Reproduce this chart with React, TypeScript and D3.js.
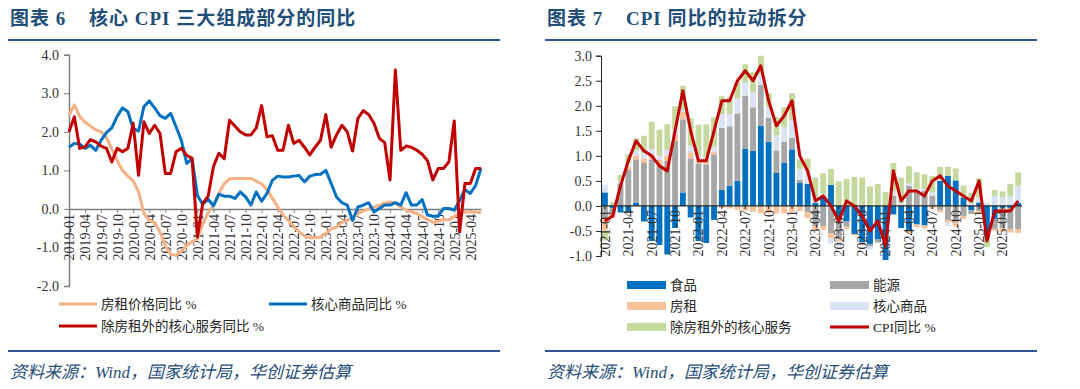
import { useEffect, useRef } from 'react';
import * as d3 from 'd3';

// ---------- helpers for category labels ----------
function monthRange(y0: number, m0: number, n: number) {
  const out: string[] = [];
  for (let i = 0; i < n; i++) {
    const t = m0 - 1 + i;
    out.push(`${y0 + Math.floor(t / 12)}-${String((t % 12) + 1).padStart(2, '0')}`);
  }
  return out;
}

// ---------- left chart: 核心CPI三大组成部分的同比 (2019-01 .. 2025-06) ----------
const leftMonths = monthRange(2019, 1, 78);
const leftYTicks = [-2, -1, 0, 1, 2, 3, 4];

const rentYoy = [
  2.43, 2.7, 2.4, 2.25, 2.15, 2.05, 2.0, 1.85, 1.55, 1.25,
  1.0, 0.85, 0.72, 0.45, -0.12, -0.3, -0.35, -0.6, -0.95, -1.18,
  -1.2, -1.1, -0.95, -0.85, -0.78, -0.4, -0.1, 0.1, 0.4, 0.65,
  0.78, 0.79, 0.79, 0.79, 0.79, 0.72, 0.65, 0.5, 0.28, 0.05,
  -0.15, -0.3, -0.45, -0.6, -0.7, -0.75, -0.75, -0.73, -0.64, -0.52,
  -0.47, -0.35, -0.3, -0.22, -0.12, -0.06, 0.0, 0.05, 0.1, 0.15,
  0.18, 0.15, 0.05, -0.03, -0.08, -0.12, -0.2, -0.28, -0.35, -0.32,
  -0.28, -0.28, -0.2, -0.12, -0.08, -0.08, -0.08, -0.1,
];
const coreGoodsYoy = [
  1.6, 1.7, 1.68, 1.57, 1.65, 1.52, 1.78, 1.98, 2.1, 2.4,
  2.62, 2.52, 2.08, 2.02, 2.65, 2.8, 2.62, 2.42, 2.35, 2.48,
  2.13, 1.78, 1.18, 1.3, 0.35, 0.12, 0.25, 0.08, 0.38, 0.33,
  0.33, 0.27, 0.44, 0.31, 0.1, 0.44, 0.2, 0.4, 0.74, 0.85,
  0.83, 0.83, 0.85, 0.87, 0.7, 0.85, 0.89, 0.9, 1.0, 0.66,
  0.31, 0.16, 0.1, -0.3, 0.05, 0.1, 0.16, -0.08, 0.01, 0.1,
  0.1, 0.16, 0.1, 0.42, 0.1, 0.1, 0.24, -0.16, -0.19, -0.19,
  0.01, 0.01, -0.03, 0.22, 0.5, 0.4, 0.61, 1.05,
];
const coreServYoy = [
  2.0, 2.39, 1.57, 1.61, 1.8, 1.74, 1.63, 1.57, 1.22, 1.57,
  1.48, 1.57, 2.22, 0.87, 2.26, 1.96, 2.17, 1.96, 0.92, 0.92,
  1.48, 1.57, 1.39, 1.31, -0.73, 0.14, 0.33, 1.1, 1.44, 1.3,
  2.3, 2.15, 2.0, 1.92, 1.92, 2.1, 2.68, 1.87, 1.9, 1.52,
  1.52, 2.17, 1.7, 1.78, 1.6, 1.4, 1.6, 1.78, 2.45, 1.6,
  1.92, 2.17, 2.0, 1.5, 2.35, 2.55, 2.45, 2.22, 1.83, 1.72,
  0.75, 3.6, 1.52, 1.63, 1.6, 1.52, 1.42, 1.25, 0.75, 1.05,
  1.05, 1.22, 2.28, -0.6, 0.66, 0.66, 1.05, 1.05,
];

// ---------- right chart: CPI同比的拉动拆分 (2021-01 .. 2025-06) ----------
const rightMonths = monthRange(2021, 1, 54);
const rightYTicks = [-1, -0.5, 0, 0.5, 1, 1.5, 2, 2.5, 3];

const food = [
  0.27, -0.04, -0.13, -0.13, 0.06, -0.31, -0.7, -0.78, -0.97, -0.44,
  0.27, -0.23, -0.7, -0.74, -0.28, 0.32, 0.4, 0.5, 1.14, 1.1,
  1.6, 1.28, 0.66, 0.86, 1.13, 0.46, 0.44, 0.06, 0.19, 0.42,
  -0.28, -0.31, -0.56, -0.72, -0.76, -0.67, -1.08, -0.17, -0.44, -0.5,
  -0.37, -0.39, 0.0, 0.5, 0.6, 0.51, 0.17, -0.09, 0.07, -0.6,
  -0.26, -0.04, -0.04, 0.06,
];
const energy = [
  -0.25, -0.12, 0.45, 0.72, 0.87, 0.87, 0.93, 0.8, 0.9, 1.3,
  1.46, 0.95, 0.85, 0.83, 1.03, 1.24, 1.19, 1.35, 1.06, 0.87,
  0.82, 0.48, 0.45, 0.42, 0.23, 0.06, -0.12, -0.4, -0.4, -0.55,
  -0.38, -0.1, 0, -0.05, -0.05, -0.06, 0, 0.2, 0, 0.4,
  0.3, 0.3, 0.2, -0.08, -0.28, -0.33, -0.2, -0.07, -0.1, -0.05,
  -0.2, -0.4, -0.42, -0.46,
];
const rent = [
  -0.24, -0.08, 0, 0.06, 0.08, 0.08, 0.1, 0.12, 0.1, 0.13,
  0.15, 0.12, 0.05, 0.08, 0.05, -0.04, -0.05, -0.08, -0.1, -0.12,
  -0.15, -0.15, -0.15, -0.15, -0.12, -0.1, -0.12, -0.1, -0.08, -0.1,
  -0.05, -0.05, -0.03, 0.03, 0, 0, 0, 0, 0, -0.04,
  -0.05, -0.06, -0.06, -0.05, -0.05, -0.08, -0.06, 0, -0.04, 0,
  -0.03, -0.08, -0.07, -0.08,
];
const coreGoods = [
  0.15, 0, 0.04, 0.07, 0.1, 0.1, 0.1, 0.08, 0.12, 0.1,
  0.05, 0.13, 0.1, 0.06, 0.1, 0.27, 0.25, 0.3, 0.26, 0.3,
  0.22, 0.22, 0.3, 0.3, 0.35, 0.22, 0.28, 0.1, 0.05, -0.1,
  -0.12, 0, 0, 0, -0.06, 0, 0, 0.1, 0.06, 0.05,
  0.04, 0.03, 0.08, 0.03, -0.07, 0, 0.04, 0.05, 0.1, 0.07,
  0.2, 0.17, 0.2, 0.34,
];
const coreServ = [
  -0.2, 0.08, 0.13, 0.18, 0.24, 0.35, 0.55, 0.52, 0.51, 0.46,
  0.47, 0.55, 0.62, 0.66, 0.59, 0.36, 0.33, 0.33, 0.37, 0.4,
  0.36, 0.27, 0.36, 0.39, 0.54, 0.19, 0.22, 0.41, 0.41, 0.32,
  0.49, 0.54, 0.58, 0.54, 0.39, 0.44, 0.28, 0.56, 0.5, 0.34,
  0.33, 0.3, 0.32, 0.25, 0.18, 0.24, 0.2, 0.21, 0.38, -0.17,
  0.12, 0.12, 0.24, 0.27,
];
const cpiYoy = [
  -0.3, -0.2, 0.4, 0.9, 1.3, 1.1, 1.0, 0.8, 0.7, 1.5, 2.3, 1.5,
  0.9, 0.9, 1.5, 2.1, 2.1, 2.5, 2.7, 2.5, 2.8, 2.1, 1.6, 1.8,
  2.1, 1.0, 0.7, 0.1, 0.2, 0.0, -0.3, 0.1, 0.0, -0.2, -0.5, -0.3,
  -0.8, 0.7, 0.1, 0.3, 0.3, 0.2, 0.5, 0.6, 0.4, 0.3, 0.2, 0.1,
  0.5, -0.7, -0.1, -0.1, -0.1, 0.1,
];

const W = 1080;
const H = 389;
const navy = '#1F4E79';
const serif = '"Liberation Serif", "Times New Roman", "Noto Sans CJK SC", serif';
const cjk = '"Liberation Serif", "Noto Sans CJK SC", sans-serif';

export default function App() {
  const ref = useRef<SVGSVGElement>(null);

  useEffect(() => {
    const svg = d3.select(ref.current);
    svg.selectAll('*').remove();
    svg.attr('width', W).attr('height', H);

    // ---- panel frames: titles, rules, source notes
    const frame = (x0: number, x1: number, num: string, title: string, titleX: number) => {
      svg.append('text')
        .attr('x', x0 + 2).attr('y', 25)
        .attr('font-family', cjk).attr('font-weight', 'bold').attr('font-size', 19)
        .attr('letter-spacing', 1)
        .attr('fill', navy).text(`图表 ${num}`);
      svg.append('text')
        .attr('x', titleX).attr('y', 25)
        .attr('font-family', cjk).attr('font-weight', 'bold').attr('font-size', 19)
        .attr('letter-spacing', 1)
        .attr('fill', navy).text(title);
      svg.append('line')
        .attr('x1', x0).attr('x2', x1).attr('y1', 40).attr('y2', 40)
        .attr('stroke', '#2F5597').attr('stroke-width', 2);
      svg.append('line')
        .attr('x1', x0).attr('x2', x1).attr('y1', 351).attr('y2', 351)
        .attr('stroke', '#2F5597').attr('stroke-width', 2);
      svg.append('text')
        .attr('x', x0 + 2).attr('y', 378)
        .attr('font-family', cjk).attr('font-style', 'italic').attr('font-size', 17)
        .attr('fill', navy).text('资料来源：Wind，国家统计局，华创证券估算');
    };
    frame(8, 500, '6', '核心 CPI 三大组成部分的同比', 89);
    frame(545, 1037, '7', 'CPI 同比的拉动拆分', 626);

    const styleAxisText = (g: any, size: number) =>
      g.selectAll('text')
        .attr('font-family', serif)
        .attr('font-size', size)
        .attr('fill', '#333');

    // ================= LEFT CHART =================
    const lx = d3.scalePoint<string>().domain(leftMonths).range([69, 481]);
    const ly = d3.scaleLinear().domain([-2, 4]).range([286, 54.7]);

    const lgy = svg.append('g')
      .attr('transform', 'translate(69,0)')
      .call(d3.axisLeft(ly).tickValues(leftYTicks).tickFormat((d: any) => (+d).toFixed(1)).tickSize(5).tickPadding(5));
    lgy.select('.domain').attr('stroke', '#7F7F7F').attr('stroke-width', 1.5);
    lgy.selectAll('line').attr('stroke', '#7F7F7F');
    styleAxisText(lgy, 14);

    const lgx = svg.append('g')
      .attr('transform', `translate(0,${ly(0)})`)
      .call(d3.axisBottom(lx).tickValues(leftMonths.filter((_, i) => i % 3 === 0)).tickSize(4).tickSizeOuter(0));
    lgx.select('.domain').attr('stroke', '#7F7F7F').attr('stroke-width', 1.5);
    lgx.selectAll('line').attr('stroke', '#7F7F7F');
    styleAxisText(lgx, 14)
      .attr('transform', 'rotate(-90)')
      .attr('text-anchor', 'end')
      .attr('x', -5).attr('y', 0).attr('dy', '0.35em');

    const leftSeries = [
      { values: rentYoy, color: '#F4B183' },
      { values: coreGoodsYoy, color: '#0070C0' },
      { values: coreServYoy, color: '#C00000' },
    ];
    const lline = d3.line<number>()
      .x((_, i) => lx(leftMonths[i]) as number)
      .y((d) => ly(d));
    leftSeries.forEach((s) => {
      svg.append('path')
        .datum(s.values)
        .attr('fill', 'none')
        .attr('stroke', s.color)
        .attr('stroke-width', 3)
        .attr('stroke-linejoin', 'round')
        .attr('d', lline);
    });

    // left legend
    const leftLegend = [
      { label: '房租价格同比 %', color: '#F4B183', x: 59, y: 304 },
      { label: '核心商品同比 %', color: '#0070C0', x: 269, y: 304 },
      { label: '除房租外的核心服务同比 %', color: '#C00000', x: 59, y: 326 },
    ];
    leftLegend.forEach((l) => {
      svg.append('line')
        .attr('x1', l.x).attr('x2', l.x + 38).attr('y1', l.y).attr('y2', l.y)
        .attr('stroke', l.color).attr('stroke-width', 3);
      svg.append('text')
        .attr('x', l.x + 42).attr('y', l.y).attr('dy', '0.36em')
        .attr('font-family', cjk).attr('font-size', 13.5).attr('fill', '#262626')
        .text(l.label);
    });

    // ================= RIGHT CHART =================
    const rx = d3.scaleBand<string>().domain(rightMonths).range([601, 1022]).paddingInner(0.25).paddingOuter(0.125);
    const ry = d3.scaleLinear().domain([-1, 3]).range([256, 55.7]);

    const keys = ['food', 'energy', 'rent', 'goods', 'serv'];
    const colors: Record<string, string> = {
      food: '#0070C0',
      energy: '#A6A6A6',
      rent: '#F8C29A',
      goods: '#DAE3F3',
      serv: '#C5D99F',
    };
    const rows = rightMonths.map((m, i) => ({
      month: m,
      food: food[i],
      energy: energy[i],
      rent: rent[i],
      goods: coreGoods[i],
      serv: coreServ[i],
    }));
    const stacked = d3.stack<any>().keys(keys).offset(d3.stackOffsetDiverging)(rows);

    svg.append('g')
      .selectAll('g')
      .data(stacked)
      .join('g')
      .attr('fill', (d) => colors[d.key])
      .selectAll('rect')
      .data((d) => d)
      .join('rect')
      .attr('x', (d: any) => rx(d.data.month) as number)
      .attr('width', rx.bandwidth())
      .attr('y', (d) => ry(Math.max(d[0], d[1])))
      .attr('height', (d) => Math.abs(ry(d[0]) - ry(d[1])));

    // category labels on top of the bars
    const rgx = svg.append('g')
      .attr('transform', `translate(0,${ry(0)})`)
      .call(d3.axisBottom(rx).tickValues(rightMonths.filter((_, i) => i % 3 === 0)).tickSize(3).tickSizeOuter(0));
    rgx.select('.domain').remove();
    rgx.selectAll('line').attr('stroke', '#262626');
    styleAxisText(rgx, 14)
      .attr('transform', 'rotate(-90)')
      .attr('text-anchor', 'end')
      .attr('x', -4).attr('y', 0).attr('dy', '0.35em');

    // zero line
    svg.append('line')
      .attr('x1', 601).attr('x2', 1022).attr('y1', ry(0)).attr('y2', ry(0))
      .attr('stroke', '#262626').attr('stroke-width', 1.2);

    const rgy = svg.append('g')
      .attr('transform', 'translate(601,0)')
      .call(d3.axisLeft(ry).tickValues(rightYTicks).tickFormat((d: any) => (+d).toFixed(1)).tickSize(5).tickPadding(4));
    rgy.select('.domain').attr('stroke', '#262626');
    rgy.selectAll('line').attr('stroke', '#262626');
    styleAxisText(rgy, 14);

    const rline = d3.line<number>()
      .x((_, i) => (rx(rightMonths[i]) as number) + rx.bandwidth() / 2)
      .y((d) => ry(d));
    svg.append('path')
      .datum(cpiYoy)
      .attr('fill', 'none')
      .attr('stroke', '#C00000')
      .attr('stroke-width', 3)
      .attr('stroke-linejoin', 'round')
      .attr('d', rline);

    // right legend
    const rightLegend = [
      { label: '食品', color: colors.food, x: 627, y: 285, kind: 'box' },
      { label: '能源', color: colors.energy, x: 830, y: 285, kind: 'box' },
      { label: '房租', color: colors.rent, x: 627, y: 306, kind: 'box' },
      { label: '核心商品', color: colors.goods, x: 830, y: 306, kind: 'box' },
      { label: '除房租外的核心服务', color: colors.serv, x: 627, y: 327, kind: 'box' },
      { label: 'CPI同比 %', color: '#C00000', x: 830, y: 327, kind: 'line' },
    ];
    rightLegend.forEach((l) => {
      if (l.kind === 'box') {
        svg.append('rect')
          .attr('x', l.x).attr('y', l.y - 4).attr('width', 39).attr('height', 8)
          .attr('fill', l.color);
      } else {
        svg.append('line')
          .attr('x1', l.x).attr('x2', l.x + 39).attr('y1', l.y).attr('y2', l.y)
          .attr('stroke', l.color).attr('stroke-width', 3);
      }
      svg.append('text')
        .attr('x', l.x + 43).attr('y', l.y).attr('dy', '0.36em')
        .attr('font-family', cjk).attr('font-size', 13.5).attr('fill', '#262626')
        .text(l.label);
    });
  }, []);

  return <svg ref={ref} style={{ position: 'absolute', left: 0, top: 0, background: '#fff' }}></svg>;
}
